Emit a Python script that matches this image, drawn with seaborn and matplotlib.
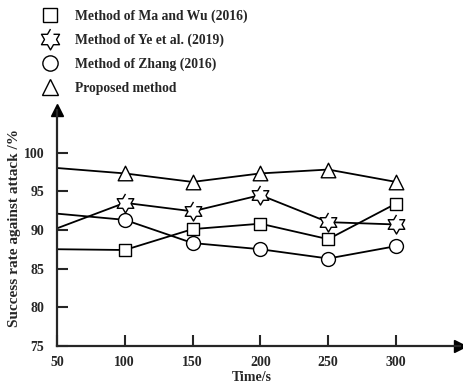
import numpy as np
import pandas as pd
import matplotlib
matplotlib.use('Agg')
import matplotlib.pyplot as plt
from matplotlib.lines import Line2D
import seaborn as sns

# data
time_s = [50, 100, 150, 200, 250, 300]
ma_wu = [87.5, 87.4, 90.1, 90.8, 88.8, 93.4]
ye_etal = [90.2, 93.5, 92.4, 94.5, 91.0, 90.7]
zhang = [92.1, 91.3, 88.3, 87.5, 86.3, 87.9]
proposed = [98.0, 97.3, 96.2, 97.3, 97.8, 96.2]
method_names = ['Method of Ma and Wu (2016)', 'Method of Ye et al. (2019)',
                'Method of Zhang (2016)', 'Proposed method']

sns.set_style('ticks')
plt.rcParams['font.family'] = ['Liberation Serif', 'DejaVu Serif']
plt.rcParams['font.weight'] = 'bold'

# six-pointed star marker
ang = np.deg2rad(np.arange(12) * 30 + 90)
rad = np.where(np.arange(12) % 2 == 0, 1.0, 0.577)
hexagram = list(zip(rad * np.cos(ang), rad * np.sin(ang)))

markers = ['s', hexagram, 'o', '^']
msizes = [70, 190, 100, 110]

df = pd.DataFrame({
    'time': time_s * 4,
    'value': ma_wu + ye_etal + zhang + proposed,
    'method': sum([[m] * len(time_s) for m in method_names], []),
})

fig = plt.figure(figsize=(4.63, 3.9), dpi=100)
ax = fig.add_axes([0.123, 0.113, 0.87, 0.605])

for name, mk, ms in zip(method_names, markers, msizes):
    sub = df[df['method'] == name]
    sns.lineplot(data=sub, x='time', y='value', color='black', linewidth=1.3, ax=ax)
    # first point has no marker in the original
    sns.scatterplot(data=sub.iloc[1:], x='time', y='value', marker=mk, s=ms,
                    facecolor='white', edgecolor='black', linewidth=1.0,
                    ax=ax, zorder=3)

ax.set_xlim(50, 347)
ax.set_ylim(75, 105.5)
ax.set_xticks(time_s)
ax.set_yticks([75, 80, 85, 90, 95, 100])
ax.tick_params(direction='in', length=8, width=1.5, labelsize=10)
ax.tick_params(axis='x', pad=7)
ax.tick_params(axis='y', pad=9)
for lab in ax.get_xticklabels() + ax.get_yticklabels():
    lab.set_fontweight('bold')
sns.despine(ax=ax)
ax.spines['left'].set_linewidth(1.6)
ax.spines['bottom'].set_linewidth(1.6)
ax.plot(1, 0, '>k', ms=9, transform=ax.transAxes, clip_on=False)
ax.plot(0, 1, '^k', ms=9, transform=ax.transAxes, clip_on=False)

ax.set_xlabel('Time/s', fontsize=10, fontweight='bold')
ax.xaxis.set_label_coords(0.484, -0.108)
ax.set_ylabel('Success rate against attack /%', fontsize=11, fontweight='bold')
ax.yaxis.set_label_coords(-0.09, 0.5)

handles = [Line2D([], [], linestyle='none', marker=mk, markersize=ms,
                  markerfacecolor='white', markeredgecolor='black', markeredgewidth=1.0)
           for mk, ms in zip(markers, [10, 15, 11, 12])]
fig.legend(handles, method_names, loc='upper left', bbox_to_anchor=(0.053, 1.008),
           frameon=False, handletextpad=0.8, labelspacing=0.8,
           prop={'weight': 'bold', 'size': 9.8})

fig.savefig('out.png', dpi=100)
